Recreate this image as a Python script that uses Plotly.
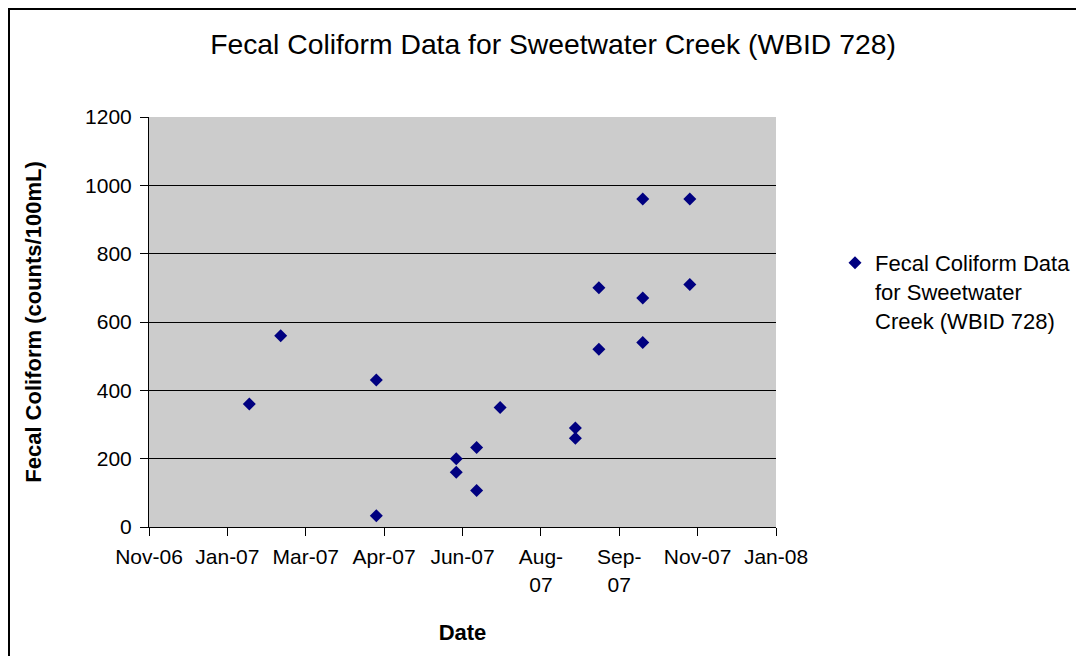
import plotly.graph_objects as go

# ---- data ----
sample_dates = ["2007-01-31", "2007-02-20", "2007-04-22", "2007-04-22",
                "2007-06-12", "2007-06-12", "2007-06-25", "2007-06-25",
                "2007-07-10", "2007-08-27", "2007-08-27", "2007-09-11",
                "2007-09-11", "2007-10-09", "2007-10-09", "2007-10-09",
                "2007-11-08", "2007-11-08"]
fecal_counts = [360, 560, 430, 33, 200, 160, 233, 107, 350, 290, 260,
                700, 520, 960, 670, 540, 960, 710]

tick_dates = ["2006-11-28", "2007-01-17", "2007-03-08", "2007-04-27",
              "2007-06-16", "2007-08-05", "2007-09-24", "2007-11-13",
              "2008-01-02"]
tick_labels = ["Nov-06", "Jan-07", "Mar-07", "Apr-07", "Jun-07",
               "Aug-<br>07", "Sep-<br>07", "Nov-07", "Jan-08"]
y_ticks = [0, 200, 400, 600, 800, 1000, 1200]

series_name = "Fecal Coliform Data<br>for Sweetwater<br>Creek (WBID 728)"
title_text = "Fecal Coliform Data for Sweetwater Creek (WBID 728)"

FONT = "Liberation Sans, Arial, sans-serif"

fig = go.Figure()
fig.add_trace(go.Scatter(
    x=sample_dates, y=fecal_counts, mode="markers", name=series_name,
    marker=dict(symbol="diamond", size=10, color="#000080",
                line=dict(width=0)),
    showlegend=True,
))

# page has an 8px body margin: screen = figure + 8
OFF = 8
W, H = 1084 - OFF, 656 - OFF
L, R, T, B = 149 - OFF, 1076 - (776 - OFF), 117 - OFF, 648 - (527 - OFF)
pw, ph = W - L - R, H - T - B

def sx(px):  # screen px -> paper x
    return (px - OFF - L) / pw

def sy(py):  # screen px -> paper y
    return (H - B - (py - OFF)) / ph

fig.update_layout(
    width=W, height=H,
    margin=dict(l=L, r=R, t=T, b=B, autoexpand=False),
    paper_bgcolor="white",
    plot_bgcolor="#CCCCCC",
    font=dict(family=FONT, size=21, color="black"),
    title=dict(text=title_text, font=dict(size=28.3, color="black", family=FONT),
               x=(553 - OFF) / W, xanchor="center", xref="container",
               y=1 - (44 - OFF) / H, yanchor="middle", yref="container"),
    showlegend=True,
    legend=dict(x=sx(835), xanchor="left",
                y=sy(242), yanchor="top",
                valign="top", font=dict(size=22, family=FONT),
                bgcolor="rgba(0,0,0,0)", itemwidth=30),
    xaxis=dict(
        type="date",
        range=[tick_dates[0], tick_dates[-1]],
        tickmode="array", tickvals=tick_dates, ticktext=tick_labels,
        ticks="outside", ticklen=8, tickcolor="black", tickwidth=1,
        showline=True, linecolor="black", linewidth=1,
        showgrid=False, zeroline=False,
        tickfont=dict(size=21, family=FONT),
        ticklabelstandoff=3,
        title=dict(text="<b>Date</b>", font=dict(size=22, family=FONT),
                   standoff=30),
        automargin=False,
    ),
    yaxis=dict(
        range=[0, 1200],
        tickmode="array", tickvals=y_ticks,
        ticks="outside", ticklen=8, tickcolor="black", tickwidth=1,
        showline=True, linecolor="black", linewidth=1,
        showgrid=True, gridcolor="black", gridwidth=1,
        zeroline=False,
        tickfont=dict(size=21, family=FONT),
        ticklabelstandoff=4,
        title=dict(text="<b>Fecal Coliform (counts/100mL)</b>",
                   font=dict(size=22, family=FONT), standoff=37),
        automargin=False,
    ),
)

# outer chart border
fig.add_shape(type="rect", xref="paper", yref="paper",
              x0=sx(OFF + 1), x1=sx(1083),
              y0=sy(720), y1=sy(OFF + 1),
              line=dict(color="black", width=2), fillcolor="rgba(0,0,0,0)",
              layer="below")

fig.write_html("out.html")
